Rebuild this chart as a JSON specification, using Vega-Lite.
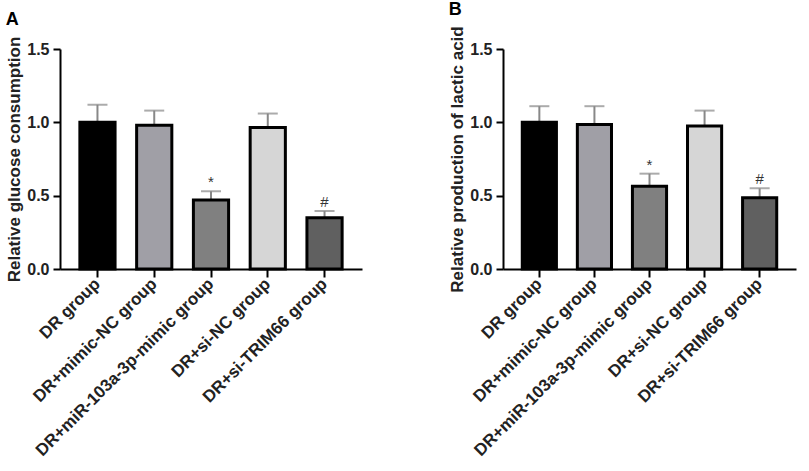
{
  "$schema": "https://vega.github.io/schema/vega-lite/v6.json",
  "padding": {"left": 5, "top": 0, "right": 4, "bottom": 1},
  "datasets": {
    "glucose": [
      {"group": "DR group", "mean": 1.0, "upper": 1.12, "sig": ""},
      {"group": "DR+mimic-NC group", "mean": 0.98, "upper": 1.08, "sig": ""},
      {"group": "DR+miR-103a-3p-mimic group", "mean": 0.47, "upper": 0.53, "sig": "*"},
      {"group": "DR+si-NC group", "mean": 0.965, "upper": 1.06, "sig": ""},
      {"group": "DR+si-TRIM66 group", "mean": 0.35, "upper": 0.395, "sig": "#"}
    ],
    "lactic": [
      {"group": "DR group", "mean": 1.0, "upper": 1.11, "sig": ""},
      {"group": "DR+mimic-NC group", "mean": 0.985, "upper": 1.11, "sig": ""},
      {"group": "DR+miR-103a-3p-mimic group", "mean": 0.565, "upper": 0.65, "sig": "*"},
      {"group": "DR+si-NC group", "mean": 0.975, "upper": 1.08, "sig": ""},
      {"group": "DR+si-TRIM66 group", "mean": 0.485, "upper": 0.55, "sig": "#"}
    ]
  },
  "spacing": 86,
  "hconcat": [
    {
      "title": {"text": "A", "anchor": "start", "frame": "bounds", "fontSize": 18, "fontWeight": "bold", "offset": 7},
      "width": 302,
      "height": 220,
      "data": {"name": "glucose"},
      "encoding": {
        "x": {
          "field": "group", "type": "nominal", "sort": null, "title": null,
          "scale": {"paddingInner": 0.38, "paddingOuter": 0.35}
        }
      },
      "layer": [
        {
          "mark": {"type": "rule", "color": "#888888", "strokeWidth": 2},
          "encoding": {
            "y": {"field": "mean", "type": "quantitative", "title": "Relative glucose consumption", "scale": {"domain": [0, 1.5], "nice": false}, "axis": {"values": [0, 0.5, 1, 1.5], "format": ".1f"}},
            "y2": {"field": "upper"}
          }
        },
        {
          "mark": {"type": "tick", "color": "#888888", "size": 20, "thickness": 2},
          "encoding": {
            "y": {"field": "upper", "type": "quantitative", "title": "Relative glucose consumption"}
          }
        },
        {
          "mark": {"type": "bar", "stroke": "black", "strokeWidth": 3},
          "encoding": {
            "y": {"field": "mean", "type": "quantitative", "title": "Relative glucose consumption"},
            "color": {
              "field": "group", "type": "nominal", "legend": null,
              "scale": {
                "domain": ["DR group", "DR+mimic-NC group", "DR+miR-103a-3p-mimic group", "DR+si-NC group", "DR+si-TRIM66 group"],
                "range": ["#000000", "#a09fa6", "#808080", "#d6d6d6", "#606060"]
              }
            }
          }
        },
        {
          "mark": {"type": "text", "dy": -9, "fontSize": 15, "color": "#333333"},
          "encoding": {
            "y": {"field": "upper", "type": "quantitative", "title": "Relative glucose consumption"},
            "text": {"field": "sig"}
          }
        }
      ]
    },
    {
      "title": {"text": "B", "anchor": "start", "frame": "bounds", "fontSize": 18, "fontWeight": "bold", "offset": 7},
      "width": 293,
      "height": 220,
      "data": {"name": "lactic"},
      "encoding": {
        "x": {
          "field": "group", "type": "nominal", "sort": null, "title": null,
          "scale": {"paddingInner": 0.38, "paddingOuter": 0.35}
        }
      },
      "layer": [
        {
          "mark": {"type": "rule", "color": "#888888", "strokeWidth": 2},
          "encoding": {
            "y": {"field": "mean", "type": "quantitative", "title": "Relative production of lactic acid", "scale": {"domain": [0, 1.5], "nice": false}, "axis": {"values": [0, 0.5, 1, 1.5], "format": ".1f"}},
            "y2": {"field": "upper"}
          }
        },
        {
          "mark": {"type": "tick", "color": "#888888", "size": 20, "thickness": 2},
          "encoding": {
            "y": {"field": "upper", "type": "quantitative", "title": "Relative production of lactic acid"}
          }
        },
        {
          "mark": {"type": "bar", "stroke": "black", "strokeWidth": 3},
          "encoding": {
            "y": {"field": "mean", "type": "quantitative", "title": "Relative production of lactic acid"},
            "color": {
              "field": "group", "type": "nominal", "legend": null,
              "scale": {
                "domain": ["DR group", "DR+mimic-NC group", "DR+miR-103a-3p-mimic group", "DR+si-NC group", "DR+si-TRIM66 group"],
                "range": ["#000000", "#a09fa6", "#808080", "#d6d6d6", "#606060"]
              }
            }
          }
        },
        {
          "mark": {"type": "text", "dy": -9, "fontSize": 15, "color": "#333333"},
          "encoding": {
            "y": {"field": "upper", "type": "quantitative", "title": "Relative production of lactic acid"},
            "text": {"field": "sig"}
          }
        }
      ]
    }
  ],
  "config": {
    "font": "Liberation Sans",
    "view": {"stroke": null},
    "axis": {
      "grid": false,
      "domainColor": "black",
      "domainWidth": 2,
      "tickColor": "black",
      "tickWidth": 2,
      "tickSize": 7,
      "labelFont": "Liberation Sans",
      "labelFontWeight": "bold",
      "labelFontSize": 16,
      "labelColor": "#222222",
      "labelLimit": 0,
      "titleFont": "Liberation Sans",
      "titleFontWeight": "bold",
      "titleFontSize": 17,
      "titleColor": "#222222"
    },
    "axisX": {
      "labelAngle": -45,
      "labelAlign": "right",
      "labelBaseline": "middle",
      "labelPadding": 4,
      "labelFontSize": 17,
      "tickSize": 8
    },
    "axisY": {
      "labelPadding": 4,
      "titlePadding": 3
    }
  }
}
